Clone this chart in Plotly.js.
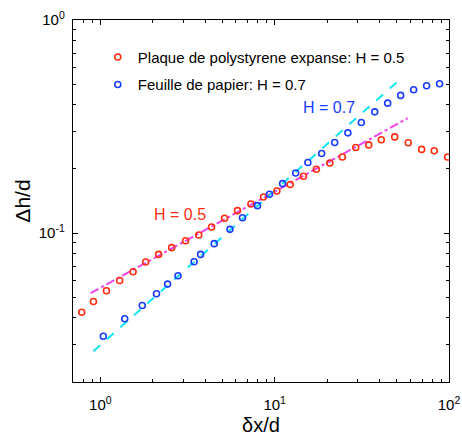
<!DOCTYPE html>
<html>
<head>
<meta charset="utf-8">
<script src="https://cdn.plot.ly/plotly-3.0.1.min.js"></script>
<style>
  html, body { margin: 0; padding: 0; background: #ffffff; }
  #chart { width: 462px; height: 436px; }
</style>
</head>
<body>
<div id="chart"></div>
<script>
// Plaque de polystyrene expanse (red)
const polyX = [0.782, 0.913, 1.084, 1.291, 1.541, 1.820, 2.160, 2.565, 3.084, 3.670,
               4.346, 5.159, 6.122, 7.306, 8.628, 10.29, 12.27, 14.62, 17.35, 20.72,
               24.45, 29.18, 34.63, 40.90, 48.81, 58.38, 69.67, 82.27, 98.2];
const polyY = [0.0425, 0.0477, 0.0536, 0.0599, 0.0658, 0.0731, 0.0794, 0.0854, 0.0921, 0.0979,
               0.1067, 0.1173, 0.1274, 0.1369, 0.1476, 0.1576, 0.1689, 0.1848, 0.1993, 0.2133,
               0.2277, 0.2520, 0.2593, 0.2743, 0.2827, 0.2655, 0.2470, 0.2434, 0.2274];

// Feuille de papier (blue)
const papX = [1.04, 1.38, 1.74, 2.10, 2.43, 2.79, 3.45, 3.76, 4.50, 5.54,
              6.54, 7.97, 9.34, 11.1, 13.2, 15.5, 18.6, 22.1, 26.3, 31.4,
              37.5, 44.5, 52.8, 62.7, 74.4, 88.3];
const papY = [0.0328, 0.0396, 0.0457, 0.0519, 0.0576, 0.0631, 0.0734, 0.0794, 0.0892, 0.1041,
              0.1181, 0.1345, 0.1520, 0.1707, 0.1915, 0.2143, 0.2362, 0.2661, 0.2953, 0.3304,
              0.3706, 0.4072, 0.4426, 0.4703, 0.4910, 0.5019];

// Power-law fit lines (end points)
const fit05X = [0.88, 58.0];
const fit05Y = [0.0522, 0.346];
const fit07X = [0.913, 51.2];
const fit07Y = [0.0279, 0.518];

// Tick labels
const xTickVals = [1, 10, 100];
const xTickText = ['10<sup>0</sup>', '10<sup>1</sup>', '10<sup>2</sup>'];
const yTickVals = [0.1, 1];
const yTickText = ['10<sup>-1</sup>', '10<sup>0</sup>'];
const xMinor = [0.7, 0.8, 0.9, 2, 3, 4, 5, 6, 7, 8, 9, 20, 30, 40, 50, 60, 70, 80, 90];
const yMinor = [0.02, 0.03, 0.04, 0.05, 0.06, 0.07, 0.08, 0.09, 0.2, 0.3, 0.4, 0.5, 0.6, 0.7, 0.8, 0.9];

const RED = '#ff2d10';
const BLUE = '#1a3cff';
const FONT = 'Liberation Sans, Arial, sans-serif';

const traces = [
  {
    x: fit05X, y: fit05Y, mode: 'lines', showlegend: false, hoverinfo: 'skip',
    line: { color: '#ee44ee', width: 2, dash: 'dashdot' }
  },
  {
    x: fit07X, y: fit07Y, mode: 'lines', showlegend: false, hoverinfo: 'skip',
    line: { color: '#11e4f4', width: 2, dash: 'dash' }
  },
  {
    x: polyX, y: polyY, mode: 'markers', name: 'Plaque de polystyrene expanse: H = 0.5',
    legendgroup: 'a',
    marker: { symbol: 'circle-open', size: 6, color: RED, line: { width: 1.6, color: RED } }
  },
  {
    x: papX, y: papY, mode: 'markers', name: 'Feuille de papier: H = 0.7',
    legendgroup: 'b',
    marker: { symbol: 'circle-open', size: 6, color: BLUE, line: { width: 1.6, color: BLUE } }
  }
];

const axisCommon = {
  type: 'log',
  showgrid: false,
  zeroline: false,
  showline: true,
  linecolor: '#000',
  linewidth: 1.2,
  mirror: 'allticks',
  ticks: 'inside',
  ticklen: 5,
  tickcolor: '#000',
  tickmode: 'array',
  tickfont: { family: FONT, size: 15, color: '#000' }
};

const layout = {
  width: 462,
  height: 436,
  margin: { l: 73, r: 13, t: 20, b: 54 },
  paper_bgcolor: '#ffffff',
  plot_bgcolor: '#ffffff',
  font: { family: FONT, color: '#000' },
  showlegend: true,
  legend: {
    x: 0.066, y: 0.9425, xanchor: 'left', yanchor: 'top',
    bgcolor: 'rgba(0,0,0,0)', borderwidth: 0,
    traceorder: 'grouped', tracegroupgap: 5,
    itemwidth: 30,
    font: { family: FONT, size: 15, color: '#000' }
  },
  xaxis: Object.assign({}, axisCommon, {
    range: [Math.log10(0.697), 2],
    tickvals: xTickVals,
    ticktext: xTickText,
    ticklabelstandoff: 9,
    minor: { tickmode: 'array', tickvals: xMinor, ticks: 'inside', ticklen: 3, tickcolor: '#000' },
    title: { text: 'δx/d', font: { family: FONT, size: 20, color: '#000' }, standoff: 7 }
  }),
  yaxis: Object.assign({}, axisCommon, {
    range: [Math.log10(0.02), 0],
    tickvals: yTickVals,
    ticktext: yTickText,
    ticklabelstandoff: 4,
    minor: { tickmode: 'array', tickvals: yMinor, ticks: 'inside', ticklen: 3, tickcolor: '#000' },
    title: { text: 'Δh/d', font: { family: FONT, size: 21, color: '#000' }, standoff: 2 }
  }),
  annotations: [
    {
      x: Math.log10(2.876), y: Math.log10(0.1225), xref: 'x', yref: 'y',
      text: 'H = 0.5', showarrow: false,
      font: { family: FONT, size: 16, color: RED }
    },
    {
      x: Math.log10(20.6), y: Math.log10(0.3887), xref: 'x', yref: 'y',
      text: 'H = 0.7', showarrow: false,
      font: { family: FONT, size: 16, color: BLUE }
    }
  ]
};

Plotly.newPlot('chart', traces, layout, { displayModeBar: false, staticPlot: true });
</script>
</body>
</html>
